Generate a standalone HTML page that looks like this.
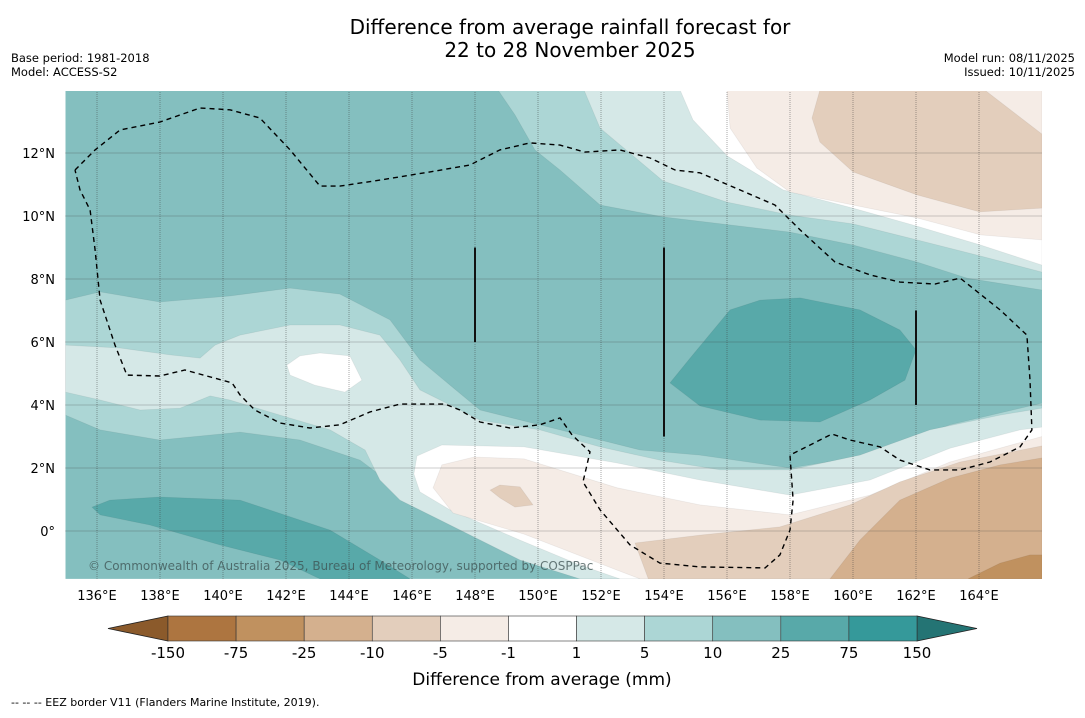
<!DOCTYPE html>
<html><head><meta charset="utf-8">
<style>
html,body{margin:0;padding:0;background:#fff;}
body{width:1085px;height:713px;overflow:hidden;font-family:"Liberation Sans","DejaVu Sans",sans-serif;}
svg text{font-family:"DejaVu Sans","Liberation Sans",sans-serif;}
</style></head>
<body>
<svg id="chart" width="1085" height="713" viewBox="0 0 1085 713" xmlns="http://www.w3.org/2000/svg">
<text x="570" y="34" font-size="20" text-anchor="middle">Difference from average rainfall forecast for</text>
<text x="570" y="57" font-size="20" text-anchor="middle">22 to 28 November 2025</text>
<text x="11" y="62" font-size="11.5">Base period: 1981-2018</text>
<text x="11" y="76" font-size="11.5">Model: ACCESS-S2</text>
<text x="1075" y="62" font-size="11.5" text-anchor="end">Model run: 08/11/2025</text>
<text x="1075" y="76" font-size="11.5" text-anchor="end">Issued: 10/11/2025</text>
<defs><clipPath id="mapclip"><rect x="65" y="91" width="977" height="488"/></clipPath></defs>
<g id="map" clip-path="url(#mapclip)"></g>
<g id="axes"></g>
<g id="cbar"></g>
<text x="542" y="685" font-size="17" text-anchor="middle">Difference from average (mm)</text>
<text x="11" y="706" font-size="11">--  --  -- EEZ border V11 (Flanders Marine Institute, 2019).</text>
</svg>
<script>
const NS="http://www.w3.org/2000/svg";
// axis extents
const lonMin=135, lonMax=166, latMin=-1.52, latMax=14;
const lonTicks=[136,138,140,142,144,146,148,150,152,154,156,158,160,162,164];
const latTicks=[0,2,4,6,8,10,12];
const latTickLabels=["0°","2°N","4°N","6°N","8°N","10°N","12°N"];
const cbarLabels=["-150","-75","-25","-10","-5","-1","1","5","10","25","75","150"];
const cbarColors=["#ad7540","#c0915f","#d4b08e","#e3cebc","#f5ece6","#ffffff","#d5e8e7","#acd6d5","#84bfbf","#58a9a9","#35999a"];
const cbarLowExtend="#8b5a2b", cbarHighExtend="#247474";
// contour polygons [lon,lat]
const band5to10Top=[[148.73,14],[149.27,13.21],[149.9,12.1],[150.7,11.46],[151.97,10.35],[153.97,9.97],[158,9.49],[160,9.08],[162.03,8.54],[163.62,8.03],[166,7.65],[166,14]];
const band5to10Low=[[135,7.33],[136.1,7.59],[137.99,7.27],[140.22,7.46],[142.13,7.71],[143.71,7.52],[145.3,6.70],[146.25,5.43],[147.21,4.63],[148.16,3.84],[150.7,3.21],[153.24,2.57],[155.14,2.41],[158,2.0],[160.54,2.41],[163.08,3.37],[166,4.06],[166,-1.52],[151.97,-1.52],[149.43,-0.44],[146.89,0.67],[145.62,1.30],[144.35,2.25],[142.44,2.89],[140.54,3.14],[137.99,2.89],[136.1,3.21],[135,3.68]];
const band1to5Top=[[151.46,14],[151.97,12.79],[153.97,11.11],[156,10.44],[158,10.03],[160,9.75],[162.03,9.24],[164.05,8.73],[166,8.22],[166,14]];
const band1to5Low=[[135,5.9],[136.73,5.81],[138.32,5.59],[139.27,5.49],[139.75,5.90],[140.54,6.22],[142.13,6.54],[143.71,6.54],[144.98,6.22],[145.62,5.43],[146.25,4.48],[147.21,4.0],[148.16,3.52],[150.06,3.21],[151.97,2.67],[153.87,2.25],[155.78,1.94],[158,1.94],[160.22,2.41],[162.44,3.21],[164.67,3.68],[166,3.9],[166,-1.52],[151.33,-1.52],[149.43,-0.92],[146.89,0.35],[145.62,0.98],[144.98,1.62],[144.51,2.57],[143.4,3.21],[141.81,3.68],[140.22,4.16],[139.59,4.29],[138.64,3.90],[137.37,3.84],[136.1,4.16],[135,4.41]];
const whiteTop=[[154.51,14],[154.92,13.05],[156,11.91],[157.78,10.83],[160,10.25],[162.03,9.68],[164.05,9.08],[166,8.44],[166,14]];
const whiteLow=[[146.06,1.81],[146.16,2.38],[146.95,2.73],[149.56,2.67],[152.51,2.16],[155.14,1.62],[158,1.14],[160.54,1.62],[163.08,2.63],[165.3,3.21],[166,3.3],[166,-1.52],[152.6,-1.52],[151.33,-1.08],[149.43,-0.29],[147.21,0.67],[146.25,1.24]];
const whiteBlob=[[142.03,5.27],[142.44,5.56],[143.08,5.65],[144.03,5.56],[144.41,4.79],[143.87,4.41],[142.92,4.63],[142.13,4.95]];
const neg1to5Top=[[156,14],[156.1,12.79],[156.95,11.52],[158,10.76],[160,10.35],[162.03,9.94],[164.05,9.40],[166,9.24],[166,14]];
const neg1to5Low=[[146.67,1.37],[146.95,2.10],[147.97,2.35],[149.56,2.29],[152.51,1.37],[155.14,0.83],[158,0.51],[160.54,1.14],[163.08,2.19],[166,3.0],[166,-1.52],[153.24,-1.52],[152.51,-1.24],[149.56,-0.1],[147.3,0.57]];
const neg5to10Top=[[158.95,14],[158.7,13.11],[158.95,12.35],[160,11.40],[162.03,10.67],[164.02,10.13],[166,10.25],[166,12.6],[164.18,14]];
const neg5to10Low=[[153.08,-0.38],[155.14,-0.13],[157.68,0.13],[159.9,0.83],[161.49,1.56],[163.4,2.19],[166,2.7],[166,-1.52],[153.5,-1.52]];
const neg5to10Blob=[[148.48,1.30],[148.79,1.46],[149.43,1.40],[149.84,0.83],[149.27,0.76],[148.79,1.05]];
const neg10to25Low=[[159.27,-1.52],[160.22,-0.29],[161.49,0.98],[163.08,1.68],[164.67,2.10],[166,2.32],[166,-1.52]];
const neg25to75Low=[[163.65,-1.52],[164.67,-1.02],[165.62,-0.76],[166,-0.76],[166,-1.52]];
const pos25to75Right=[[154.19,4.70],[154.83,5.49],[156.1,7.02],[157.05,7.33],[158.32,7.40],[160.22,7.02],[161.49,6.38],[162.0,5.75],[161.65,4.79],[160.54,4.16],[158.95,3.46],[157.05,3.52],[155.14,3.97]];
const pos25to75Left=[[135.84,0.76],[136.41,0.98],[137.99,1.08],[140.54,0.98],[143.4,0.03],[144.98,-0.92],[145.94,-1.52],[143.08,-1.52],[141.81,-0.92],[139.9,-0.44],[137.68,0.19],[136.1,0.51]];
// EEZ border (dashed)
const eezBorder=[[135.3,11.46],[135.94,12.1],[136.73,12.73],[137.99,12.98],[139.27,13.43],[140.22,13.37],[141.17,13.11],[142.13,12.1],[143.08,10.95],[143.71,10.95],[144.98,11.14],[146.57,11.40],[147.84,11.62],[148.16,11.78],[148.79,12.1],[149.75,12.32],[150.7,12.25],[151.49,12.03],[152.6,12.1],[153.56,11.84],[154.35,11.46],[155.14,11.37],[156.41,10.83],[157.52,10.35],[158.32,9.56],[159.43,8.54],[160.54,8.13],[161.49,7.90],[162.6,7.84],[163.4,8.03],[164.67,7.02],[165.52,6.22],[165.62,4.79],[165.68,3.21],[165.3,2.67],[164.35,2.19],[163.4,1.94],[162.44,1.94],[161.49,2.25],[160.86,2.67],[159.9,2.89],[159.33,3.08],[158.32,2.57],[158,2.41],[158.1,0.98],[158,0.03],[157.68,-0.76],[157.21,-1.17],[155.14,-1.14],[153.87,-1.02],[152.92,-0.44],[151.97,0.67],[151.43,1.56],[151.65,2.51],[151.08,3.05],[150.7,3.59],[150.06,3.37],[149.11,3.27],[148.16,3.46],[147.52,3.84],[147.05,4.03],[145.62,4.03],[144.67,3.78],[143.71,3.37],[142.76,3.27],[141.81,3.43],[141.01,3.84],[140.54,4.32],[140.29,4.70],[138.79,5.11],[137.99,4.92],[136.95,4.95],[136.57,5.90],[136.1,7.33],[135.94,8.92],[135.78,10.19],[135.46,10.83],[135.3,11.46]];
// vertical black segments [lon, latTop, latBottom]
const segLons=[148,154,162], segTop=[9,9,7], segBot=[6,3,4];

const X0=65.5, Y0=531, K=31.5;
function xs(lon){return X0+(lon-lonMin)*K;}
function ys(lat){return Y0-lat*K;}
const map=document.getElementById('map');
function pts(arr){return arr.map(p=>xs(p[0]).toFixed(1)+','+ys(p[1]).toFixed(1)).join(' ');}
function poly(arr,fill,name){
  const e=document.createElementNS(NS,'polygon');
  e.setAttribute('points',pts(arr));
  e.setAttribute('fill',fill);
  e.setAttribute('stroke','rgba(0,0,0,0.06)');
  e.setAttribute('stroke-width','0.8');
  
  
  map.appendChild(e);
}
const bg=document.createElementNS(NS,'rect');
bg.setAttribute('x',xs(lonMin));bg.setAttribute('y',ys(latMax));
bg.setAttribute('width',xs(lonMax)-xs(lonMin));bg.setAttribute('height',ys(latMin)-ys(latMax));
bg.setAttribute('fill',cbarColors[8]);


map.appendChild(bg);
poly(band5to10Top,cbarColors[7],'contour-5-to-10-north');
poly(band5to10Low,cbarColors[7],'contour-5-to-10-south');
poly(band1to5Top,cbarColors[6],'contour-1-to-5-north');
poly(band1to5Low,cbarColors[6],'contour-1-to-5-south');
poly(whiteTop,cbarColors[5],'contour-neutral-north');
poly(whiteLow,cbarColors[5],'contour-neutral-south');
poly(whiteBlob,cbarColors[5],'contour-neutral-blob');
poly(neg1to5Top,cbarColors[4],'contour-minus1-to-5-north');
poly(neg1to5Low,cbarColors[4],'contour-minus1-to-5-south');
poly(neg5to10Top,cbarColors[3],'contour-minus5-to-10-north');
poly(neg5to10Low,cbarColors[3],'contour-minus5-to-10-south');
poly(neg5to10Blob,cbarColors[3],'contour-minus5-to-10-blob');
poly(neg10to25Low,cbarColors[2],'contour-minus10-to-25');
poly(neg25to75Low,cbarColors[1],'contour-minus25-to-75');
poly(pos25to75Right,cbarColors[9],'contour-25-to-75-east');
poly(pos25to75Left,cbarColors[9],'contour-25-to-75-southwest');
// grid
lonTicks.forEach(l=>{
  const g=document.createElementNS(NS,'line');
  g.setAttribute('x1',xs(l));g.setAttribute('x2',xs(l));g.setAttribute('y1',ys(latMax));g.setAttribute('y2',ys(latMin));
  g.setAttribute('stroke','rgba(60,60,60,0.45)');g.setAttribute('stroke-width','1');g.setAttribute('stroke-dasharray','1,1');
  
  
  map.appendChild(g);
});
latTicks.forEach(l=>{
  const g=document.createElementNS(NS,'line');
  g.setAttribute('y1',ys(l));g.setAttribute('y2',ys(l));g.setAttribute('x1',xs(lonMin));g.setAttribute('x2',xs(lonMax));
  g.setAttribute('stroke','rgba(60,60,60,0.5)');g.setAttribute('stroke-width','1');g.setAttribute('stroke-dasharray','1,1');
  
  
  map.appendChild(g);
});
// EEZ
const eez=document.createElementNS(NS,'polyline');
eez.setAttribute('points',pts(eezBorder));
eez.setAttribute('fill','none');eez.setAttribute('stroke','#000');eez.setAttribute('stroke-width','1.4');eez.setAttribute('stroke-dasharray','5,4');


map.appendChild(eez);
segLons.forEach((l,i)=>{
  const s=document.createElementNS(NS,'line');
  s.setAttribute('x1',xs(l));s.setAttribute('x2',xs(l));s.setAttribute('y1',ys(segTop[i]));s.setAttribute('y2',ys(segBot[i]));
  s.setAttribute('stroke','#111');s.setAttribute('stroke-width','2');
  
  
  map.appendChild(s);
});
const cp=document.createElementNS(NS,'text');
cp.setAttribute('x',88);cp.setAttribute('y',570);cp.setAttribute('font-size','12');cp.setAttribute('fill','rgba(60,80,80,0.75)');
cp.textContent='© Commonwealth of Australia 2025, Bureau of Meteorology, supported by COSPPac';


map.appendChild(cp);
// axis labels
const axes=document.getElementById('axes');
lonTicks.forEach(l=>{
  const t=document.createElementNS(NS,'text');
  t.setAttribute('x',xs(l));t.setAttribute('y',600);t.setAttribute('font-size','13');t.setAttribute('text-anchor','middle');
  t.textContent=l+'°E';
  
  
  axes.appendChild(t);
});
latTicks.forEach((l,i)=>{
  const t=document.createElementNS(NS,'text');
  t.setAttribute('x',55);t.setAttribute('y',ys(l)+5);t.setAttribute('font-size','13');t.setAttribute('text-anchor','end');
  t.textContent=latTickLabels[i];
  
  
  axes.appendChild(t);
});
// colorbar
const cb=document.getElementById('cbar');
const cbX0=168, cbX1=917, cbY=616, cbH=25;
const cw=(cbX1-cbX0)/cbarColors.length;
const lt=document.createElementNS(NS,'polygon');
lt.setAttribute('points',`${cbX0},${cbY} ${cbX0},${cbY+cbH} 108,${cbY+cbH/2}`);
lt.setAttribute('fill',cbarLowExtend);lt.setAttribute('stroke','#222');lt.setAttribute('stroke-width','0.8');


cb.appendChild(lt);
const rt=document.createElementNS(NS,'polygon');
rt.setAttribute('points',`${cbX1},${cbY} ${cbX1},${cbY+cbH} 977,${cbY+cbH/2}`);
rt.setAttribute('fill',cbarHighExtend);rt.setAttribute('stroke','#222');rt.setAttribute('stroke-width','0.8');


cb.appendChild(rt);
cbarColors.forEach((c,i)=>{
  const r=document.createElementNS(NS,'rect');
  r.setAttribute('x',cbX0+i*cw);r.setAttribute('y',cbY);r.setAttribute('width',cw);r.setAttribute('height',cbH);
  r.setAttribute('fill',c);r.setAttribute('stroke','#333');r.setAttribute('stroke-width','0.6');
  
  
  cb.appendChild(r);
});
cbarLabels.forEach((s,i)=>{
  const t=document.createElementNS(NS,'text');
  t.setAttribute('x',cbX0+i*cw);t.setAttribute('y',658);t.setAttribute('font-size','15');t.setAttribute('text-anchor','middle');
  t.textContent=s;
  
  
  cb.appendChild(t);
});
</script>
</body></html>
